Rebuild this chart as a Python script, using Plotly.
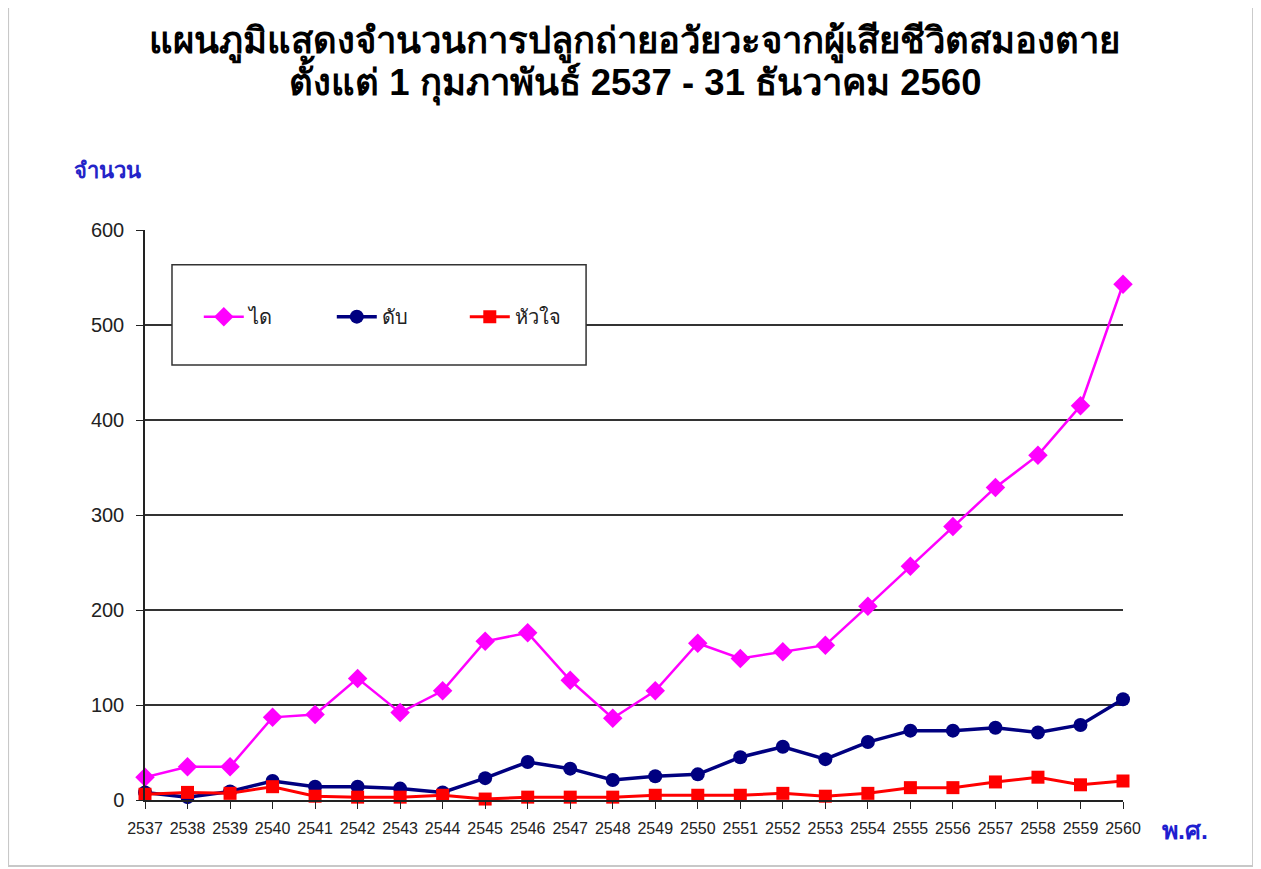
import plotly.graph_objects as go

YEARS = list(range(2537, 2561))

KIDNEY = [24, 35, 35, 87, 90, 128, 92, 115, 167, 176, 126, 86,
          115, 165, 149, 156, 163, 204, 246, 288, 329, 363, 415, 543]
LIVER = [8, 3, 9, 20, 14, 14, 12, 8, 23, 40, 33, 21,
         25, 27, 45, 56, 43, 61, 73, 73, 76, 71, 79, 106]
HEART = [6, 8, 7, 14, 4, 3, 3, 5, 1, 3, 3, 3,
         5, 5, 5, 7, 4, 7, 13, 13, 19, 24, 16, 20]

SERIES = [
    ("ได", KIDNEY, "#FF00FF", "diamond", 15, 2.5),
    ("ดับ", LIVER, "#000080", "circle", 14, 3.5),
    ("หัวใจ", HEART, "#FF0000", "square", 13, 3),
]

TITLE_LINES = [
    "แผนภูมิแสดงจำนวนการปลูกถ่ายอวัยวะจากผู้เสียชีวิตสมองตาย",
    "ตั้งแต่ 1 กุมภาพันธ์ 2537 - 31 ธันวาคม 2560",
]
Y_TICKS = [0, 100, 200, 300, 400, 500, 600]

fig = go.Figure()
for name, vals, color, symbol, size, width in SERIES:
    fig.add_trace(go.Scatter(
        x=YEARS, y=vals, name=name, mode="lines+markers",
        line=dict(color=color, width=width),
        marker=dict(symbol=symbol, size=size, color=color),
        cliponaxis=False,
    ))

# legend frame (white box over the gridlines)
fig.add_shape(type="rect", xref="paper", yref="paper",
              x0=0.0276, x1=0.451, y0=0.763, y1=0.939,
              line=dict(color="#333333", width=1.5), fillcolor="white", layer="above")
# outer slide frame
fig.add_shape(type="rect", xref="paper", yref="paper",
              x0=-0.140, x1=1.133, y0=-0.116, y1=1.396,
              line=dict(color="#C8C8C8", width=2))

for line, yy in zip(TITLE_LINES, [1.330, 1.263]):
    fig.add_annotation(text=f"<b>{line}</b>", xref="paper", yref="paper",
                       x=0.501, y=yy, xanchor="center", yanchor="middle", showarrow=False,
                       font=dict(size=36.5, color="black"))

fig.add_annotation(text="<b>จำนวน</b>", xref="paper", yref="paper",
                   x=-0.038, y=1.105, xanchor="center", yanchor="middle", showarrow=False,
                   font=dict(size=22, color="#2424C8"))
fig.add_annotation(text="<b>พ.ศ.</b>", xref="paper", yref="paper",
                   x=1.063, y=-0.053, xanchor="center", yanchor="middle", showarrow=False,
                   font=dict(size=25, color="#1F1FD0"))

fig.update_layout(
    width=1261, height=869,
    margin=dict(l=137, r=146, t=222, b=77),
    paper_bgcolor="white", plot_bgcolor="white",
    font=dict(family="Liberation Sans, Arial, sans-serif", color="#222222"),
    legend=dict(orientation="h", x=0.055, y=0.848, xanchor="left", yanchor="middle",
                bgcolor="rgba(0,0,0,0)", font=dict(size=20, color="#222222"),
                entrywidth=78, itemwidth=40),
    showlegend=True,
)
fig.update_xaxes(
    range=[2537, 2560], tickmode="array", tickvals=YEARS, ticktext=[str(y) for y in YEARS],
    showgrid=False, showline=True, linecolor="#222222", linewidth=1.5,
    ticks="outside", ticklen=7, tickcolor="#222222", ticklabelstandoff=6,
    tickfont=dict(family="Liberation Sans Narrow, Arial Narrow, Liberation Sans", size=16),
    zeroline=False,
)
fig.update_yaxes(
    range=[0, 600], tickvals=Y_TICKS, showgrid=True, gridcolor="#333333", gridwidth=1.5,
    showline=True, linecolor="#222222", linewidth=1.5,
    ticks="outside", ticklen=7, tickcolor="#222222", ticklabelstandoff=8,
    tickfont=dict(size=20),
    zeroline=False,
)

fig.write_html("out.html")
